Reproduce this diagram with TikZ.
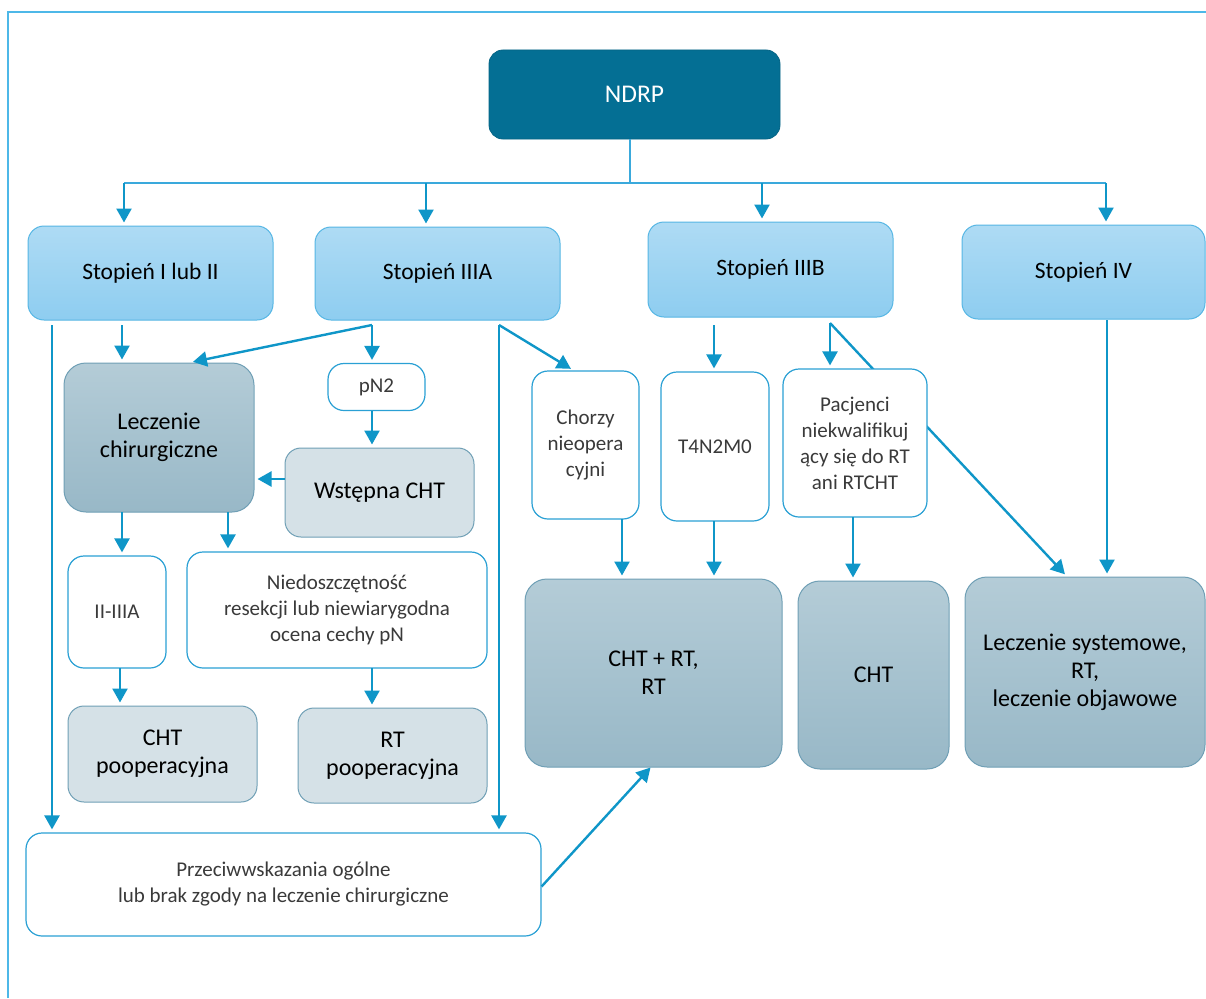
\documentclass[tikz,border=0pt]{standalone}
\usepackage{fontspec}
\setmainfont{Carlito}
\usetikzlibrary{arrows.meta,backgrounds}

\definecolor{topbox}{HTML}{046F94}
\definecolor{stagetop}{HTML}{AEDBF4}
\definecolor{stagebot}{HTML}{8ECDF0}
\definecolor{stageedge}{HTML}{56B6E4}
\definecolor{treattop}{HTML}{B4CCD7}
\definecolor{treatbot}{HTML}{98B8C7}
\definecolor{treatedge}{HTML}{6F9FB5}
\definecolor{paletreat}{HTML}{D5E1E7}
\definecolor{condedge}{HTML}{2AA0D4}
\definecolor{arrowc}{HTML}{0F96C8}
\definecolor{thinc}{HTML}{3AA9DC}
\definecolor{framec}{HTML}{4DB8E8}
\definecolor{condtext}{HTML}{3A3A3A}

\tikzset{
  box/.style={rounded corners=#1, align=center, inner sep=2pt},
  box/.default=16pt,
  rootbox/.style={box=14pt, fill=topbox, draw=topbox!90!black, line width=0.8pt,
    text=white, font=\fontsize{25.5}{29}\selectfont},
  stagebox/.style={box=16pt, top color=stagetop, bottom color=stagebot,
    draw=stageedge, line width=1pt, font=\fontsize{23.5}{28}\selectfont},
  treatbox/.style={box=22pt, top color=treattop, bottom color=treatbot,
    draw=treatedge, line width=1pt, font=\fontsize{24}{28}\selectfont},
  palebox/.style={box=16pt, fill=paletreat, draw=treatedge, line width=1pt,
    font=\fontsize{24}{28}\selectfont},
  condbox/.style={box=16pt, fill=white, draw=condedge, line width=1.2pt,
    text=condtext, font=\fontsize{21}{26}\selectfont},
  arr/.style={draw=arrowc, line width=2.4pt,
    -{Triangle[width=15pt,length=14pt]}, shorten >=3pt},
  plainline/.style={draw=arrowc, line width=2.4pt},
  thin/.style={draw=thinc, line width=1.5pt},
}

\begin{document}
\begin{tikzpicture}[x=1pt,y=-1pt]
\useasboundingbox (0,0) rectangle (1206,998);

% outer frame (top and left edges)
\draw[draw=framec, line width=1.2pt] (8,998) -- (8,12) -- (1206,12);

% root
\node[rootbox, minimum width=291pt, minimum height=89pt] (ndrp) at (634.5,94.5) {NDRP};

% stages
\node[stagebox, minimum width=245pt, minimum height=94pt] (s1)  at (150.5,273)  {Stopień I lub II};
\node[stagebox, minimum width=245pt, minimum height=93pt] (s3a) at (437.5,273.5){Stopień IIIA};
\node[stagebox, minimum width=245pt, minimum height=95pt] (s3b) at (770.5,269.5){Stopień IIIB};
\node[stagebox, minimum width=243pt, minimum height=94pt] (s4)  at (1083.5,272) {Stopień IV};

% stage I/II and IIIA branch
\node[treatbox, minimum width=190pt, minimum height=149pt] (lecz) at (159,437.5) {Leczenie\\chirurgiczne};
\node[condbox, minimum width=97pt, minimum height=47pt] (pn2) at (376.5,387) {pN2};
\node[palebox, minimum width=189pt, minimum height=89pt] (wst) at (379.5,492.5) {Wstępna CHT};
\node[condbox, minimum width=98pt, minimum height=112pt] (iiia) at (117,612) {II-IIIA};
\node[condbox, minimum width=300pt, minimum height=116pt] (nied) at (337,610)
  {Niedoszczętność\\resekcji lub niewiarygodna\\ocena cechy pN};
\node[palebox, minimum width=189pt, minimum height=96pt] (chtp) at (162.5,754) {CHT\\pooperacyjna};
\node[palebox, minimum width=189pt, minimum height=95pt] (rtp) at (392.5,755.5) {RT\\pooperacyjna};
\node[condbox, minimum width=515pt, minimum height=103pt] (przec) at (283.5,884.5)
  {Przeciwwskazania ogólne\\lub brak zgody na leczenie chirurgiczne};

% IIIA inoperable / IIIB branch
\node[condbox, minimum width=107pt, minimum height=148pt] (chorzy) at (585.5,445) {Chorzy\\nieopera\\cyjni};
\node[condbox, minimum width=108pt, minimum height=149pt] (t4) at (715,446.5) {T4N2M0};
\node[condbox, minimum width=144pt, minimum height=148pt] (pac) at (855,443)
  {Pacjenci\\niekwalifikuj\\ący się do RT\\ani RTCHT};
\node[treatbox, minimum width=257pt, minimum height=188pt] (chtrt) at (653.5,673) {CHT + RT,\\RT};
\node[treatbox, minimum width=151pt, minimum height=188pt] (cht) at (873.5,675) {CHT};
\node[treatbox, minimum width=240pt, minimum height=190pt] (lsys) at (1085,672)
  {Leczenie systemowe,\\RT,\\leczenie objawowe};

% distribution from root to stages
\coordinate (hub) at (630,183);
\coordinate (h1) at (124,183);
\coordinate (h2) at (426,183);
\coordinate (h3) at (762,183);
\coordinate (h4) at (1106,183);
\draw[thin] (ndrp.south -| hub) -- (hub);
\draw[thin] (h1) -- (h4);
\draw[arr] (h1) -- (h1 |- s1.north);
\draw[arr] (h2) -- (h2 |- s3a.north);
\draw[arr] (h3) -- (h3 |- s3b.north);
\draw[arr] (h4) -- (h4 |- s4.north);

% stage I/II
\coordinate (a1) at (52,325);
\coordinate (a2) at (122,325);
\draw[arr] (a1) -- (a1 |- przec.north);
\draw[arr] (a2) -- (a2 |- lecz.north);

% stage IIIA
\coordinate (b) at (372,325);
\coordinate (c) at (499,325);
\draw[arr] (b) -- ([xshift=31pt]lecz.north);
\draw[arr] (b) -- (b |- pn2.north);
\draw[arr] (pn2.south -| b) -- (wst.north -| b);
\draw[arr] ([yshift=13.5pt]wst.west) -- ([yshift=13.5pt]wst.west -| lecz.east);
\draw[arr] (c) -- (c |- przec.north);
\draw[arr] (c) -- ([xshift=-12pt]chorzy.north);

% after surgery
\coordinate (l1) at (122,512);
\coordinate (l2) at (228,512);
\draw[arr] (l1) -- (l1 |- iiia.north);
\draw[arr] (l2) -- (l2 |- nied.north);
\coordinate (i1) at (120,668);
\draw[arr] (i1) -- (i1 |- chtp.north);
\coordinate (n1) at (372,668);
\draw[arr] (n1) -- (n1 |- rtp.north);

% contraindications to chemoradiotherapy
\draw[plainline, -{Triangle[width=15pt,length=14pt]}] ([yshift=-2pt]przec.east) -- ([xshift=-3pt]chtrt.south);

% IIIB
\coordinate (t) at (714,325);
\coordinate (d) at (830,323);
\draw[arr] (t) -- (t |- t4.north);
\draw[arr] (d) -- (d |- pac.north);
\begin{pgfonlayer}{background}
\draw[arr] (d) -- ([xshift=-18pt]lsys.north);
\end{pgfonlayer}
\coordinate (u1) at (622,519);
\draw[arr] (u1) -- (u1 |- chtrt.north);
\coordinate (u2) at (714,521);
\draw[arr] (u2) -- (u2 |- chtrt.north);
\coordinate (u3) at (853,517);
\draw[arr] (u3) -- (u3 |- cht.north);

% IV
\coordinate (v) at (1107,320);
\draw[arr] (v) -- (v |- lsys.north);
\end{tikzpicture}
\end{document}
